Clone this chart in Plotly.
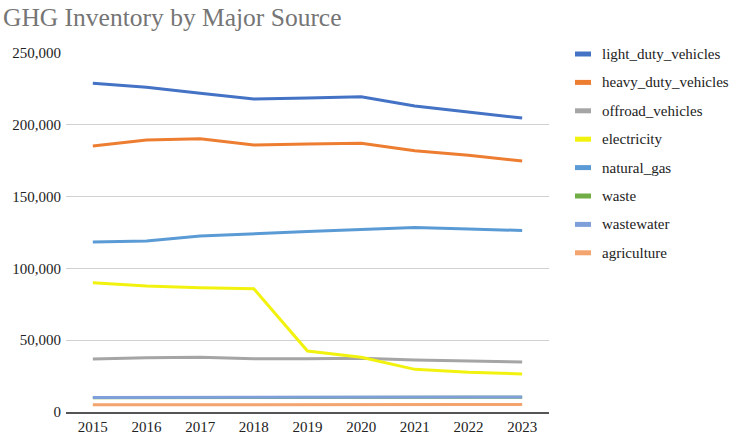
import plotly.graph_objects as go

years = ["2015", "2016", "2017", "2018", "2019", "2020", "2021", "2022", "2023"]

light_duty_vehicles = [228900, 226100, 221900, 218000, 218700, 219600, 213100, 209100, 204700]
heavy_duty_vehicles = [185200, 189400, 190300, 185900, 186600, 187100, 182000, 178800, 174800]
offroad_vehicles = [36900, 37800, 38100, 37100, 37100, 37400, 36200, 35700, 34800]
electricity = [90000, 87700, 86600, 85900, 42500, 38100, 29700, 27600, 26500]
natural_gas = [118400, 119100, 122600, 124300, 125700, 127100, 128500, 127400, 126400]
waste = [10000, 10100, 10200, 10400, 10500, 10600, 10500, 10300, 10200]
wastewater = [10100, 10200, 10300, 10500, 10700, 10800, 10700, 10500, 10400]
agriculture = [5000, 5100, 5100, 5200, 5300, 5300, 5300, 5200, 5200]

series_names = ["light_duty_vehicles", "heavy_duty_vehicles", "offroad_vehicles", "electricity",
                "natural_gas", "waste", "wastewater", "agriculture"]
series_values = [light_duty_vehicles, heavy_duty_vehicles, offroad_vehicles, electricity,
                 natural_gas, waste, wastewater, agriculture]
colors = ["#4472C4", "#ED7D31", "#A5A5A5", "#F2F20F", "#5B9BD5", "#70AD47", "#7F9FDB", "#F4A46E"]

y_tickvals = [0, 50000, 100000, 150000, 200000, 250000]
y_ticktext = ["0", "50,000", "100,000", "150,000", "200,000", "250,000"]

FONT = "Liberation Serif"

fig = go.Figure()
for name, vals, col in zip(series_names, series_values, colors):
    fig.add_trace(go.Scatter(x=years, y=vals, name=name, mode="lines",
                             line=dict(color=col, width=3), showlegend=False))

# custom legend (short thick swatches)
L, R, T, B = 66, 191, 53, 27
W, H = 740, 439
pw, ph = W - L - R, H - T - B
row0, gap = 54, 28.4
for i, (name, col) in enumerate(zip(series_names, colors)):
    py = row0 + i * gap
    yp = (H - B - py) / ph
    x0 = (575 - L) / pw
    x1 = (591 - L) / pw
    fig.add_shape(type="line", xref="paper", yref="paper", x0=x0, x1=x1, y0=yp, y1=yp,
                  line=dict(color=col, width=5))
    fig.add_annotation(xref="paper", yref="paper", x=(600 - L) / pw, y=yp, text=name,
                       showarrow=False, xanchor="left", yanchor="middle",
                       font=dict(family=FONT, size=15, color="#222222"))

fig.update_layout(
    width=W, height=H,
    margin=dict(l=L, r=R, t=T, b=B, autoexpand=False),
    showlegend=False,
    paper_bgcolor="white", plot_bgcolor="white",
    font=dict(family=FONT, size=15, color="#222222"),
    title=dict(text="GHG Inventory by Major Source", x=0.0, xanchor="left", pad=dict(l=3),
               y=0.962, yanchor="middle", automargin=False,
               font=dict(family=FONT, size=25.5, color="#757575")),
    xaxis=dict(type="category", range=[-0.5, 8.5], showgrid=False, showline=True,
               linecolor="#555555", linewidth=1.5, ticks="", automargin=False,
               tickfont=dict(family=FONT, size=15, color="#222222"), zeroline=False),
    yaxis=dict(range=[0, 250000], tickvals=y_tickvals, ticktext=y_ticktext, automargin=False,
               showgrid=True, gridcolor="#D0D0D0", gridwidth=1, zeroline=False,
               showline=False, ticks="", ticklabelstandoff=4,
               tickfont=dict(family=FONT, size=15, color="#222222")),
)

fig.write_html("out.html", config={"displayModeBar": False},
               post_script="document.body.style.margin='0';")
